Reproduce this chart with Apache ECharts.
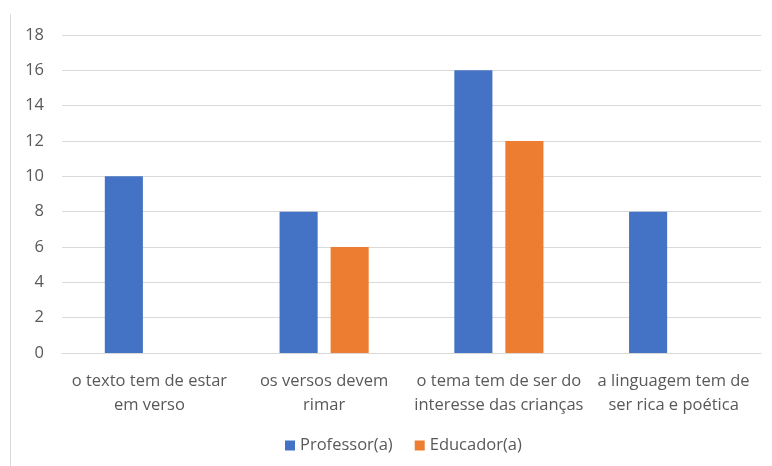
<!DOCTYPE html>
<html><head><meta charset="utf-8">
<script src="https://cdn.jsdelivr.net/npm/echarts@6/dist/echarts.min.js"></script>
<style>html,body{margin:0;padding:0;background:#fff}#c{width:772px;height:466px}</style>
</head><body><div id="c"></div>
<script>
const categories = ['o texto tem de estar\nem verso', 'os versos devem\nrimar', 'o tema tem de ser do\ninteresse das crianças', 'a linguagem tem de\nser rica e poética'];
const professor = [10, 8, 16, 8];
const educador = [0, 6, 12, 0];
const yTicks = {min: 0, max: 18, interval: 2};
const chart = echarts.init(document.getElementById('c'));
const font = '"Open Sans", "Noto Sans", sans-serif';
chart.setOption({
  animation: false,
  textStyle: {fontFamily: font},
  grid: {left: 62, right: 11, top: 35, bottom: 113, containLabel: false},
  legend: {
    bottom: 7, left: 280, itemWidth: 10, itemHeight: 10, itemGap: 22,
    icon: 'rect',
    textStyle: {color: '#595959', fontSize: 16.5, fontFamily: font},
    data: ['Professor(a)', 'Educador(a)']
  },
  xAxis: {
    type: 'category', data: categories,
    axisLine: {lineStyle: {color: '#d9d9d9'}},
    axisTick: {show: false},
    axisLabel: {color: '#595959', fontSize: 16.5, lineHeight: 24, margin: 16, interval: 0, fontFamily: font}
  },
  yAxis: {
    type: 'value', min: yTicks.min, max: yTicks.max, interval: yTicks.interval,
    axisLine: {show: false}, axisTick: {show: false},
    splitLine: {lineStyle: {color: '#d9d9d9'}},
    axisLabel: {color: '#595959', fontSize: 16.5, margin: 18, fontFamily: font}
  },
  series: [
    {name: 'Professor(a)', type: 'bar', data: professor, itemStyle: {color: '#4472c4'}, barGap: '34%', barCategoryGap: '49%'},
    {name: 'Educador(a)', type: 'bar', data: educador, itemStyle: {color: '#ed7d31'}}
  ],
  graphic: [{type: 'line', shape: {x1: 10.5, y1: 14, x2: 10.5, y2: 466}, style: {stroke: '#d9d9d9', lineWidth: 1}}]
});
</script></body></html>
